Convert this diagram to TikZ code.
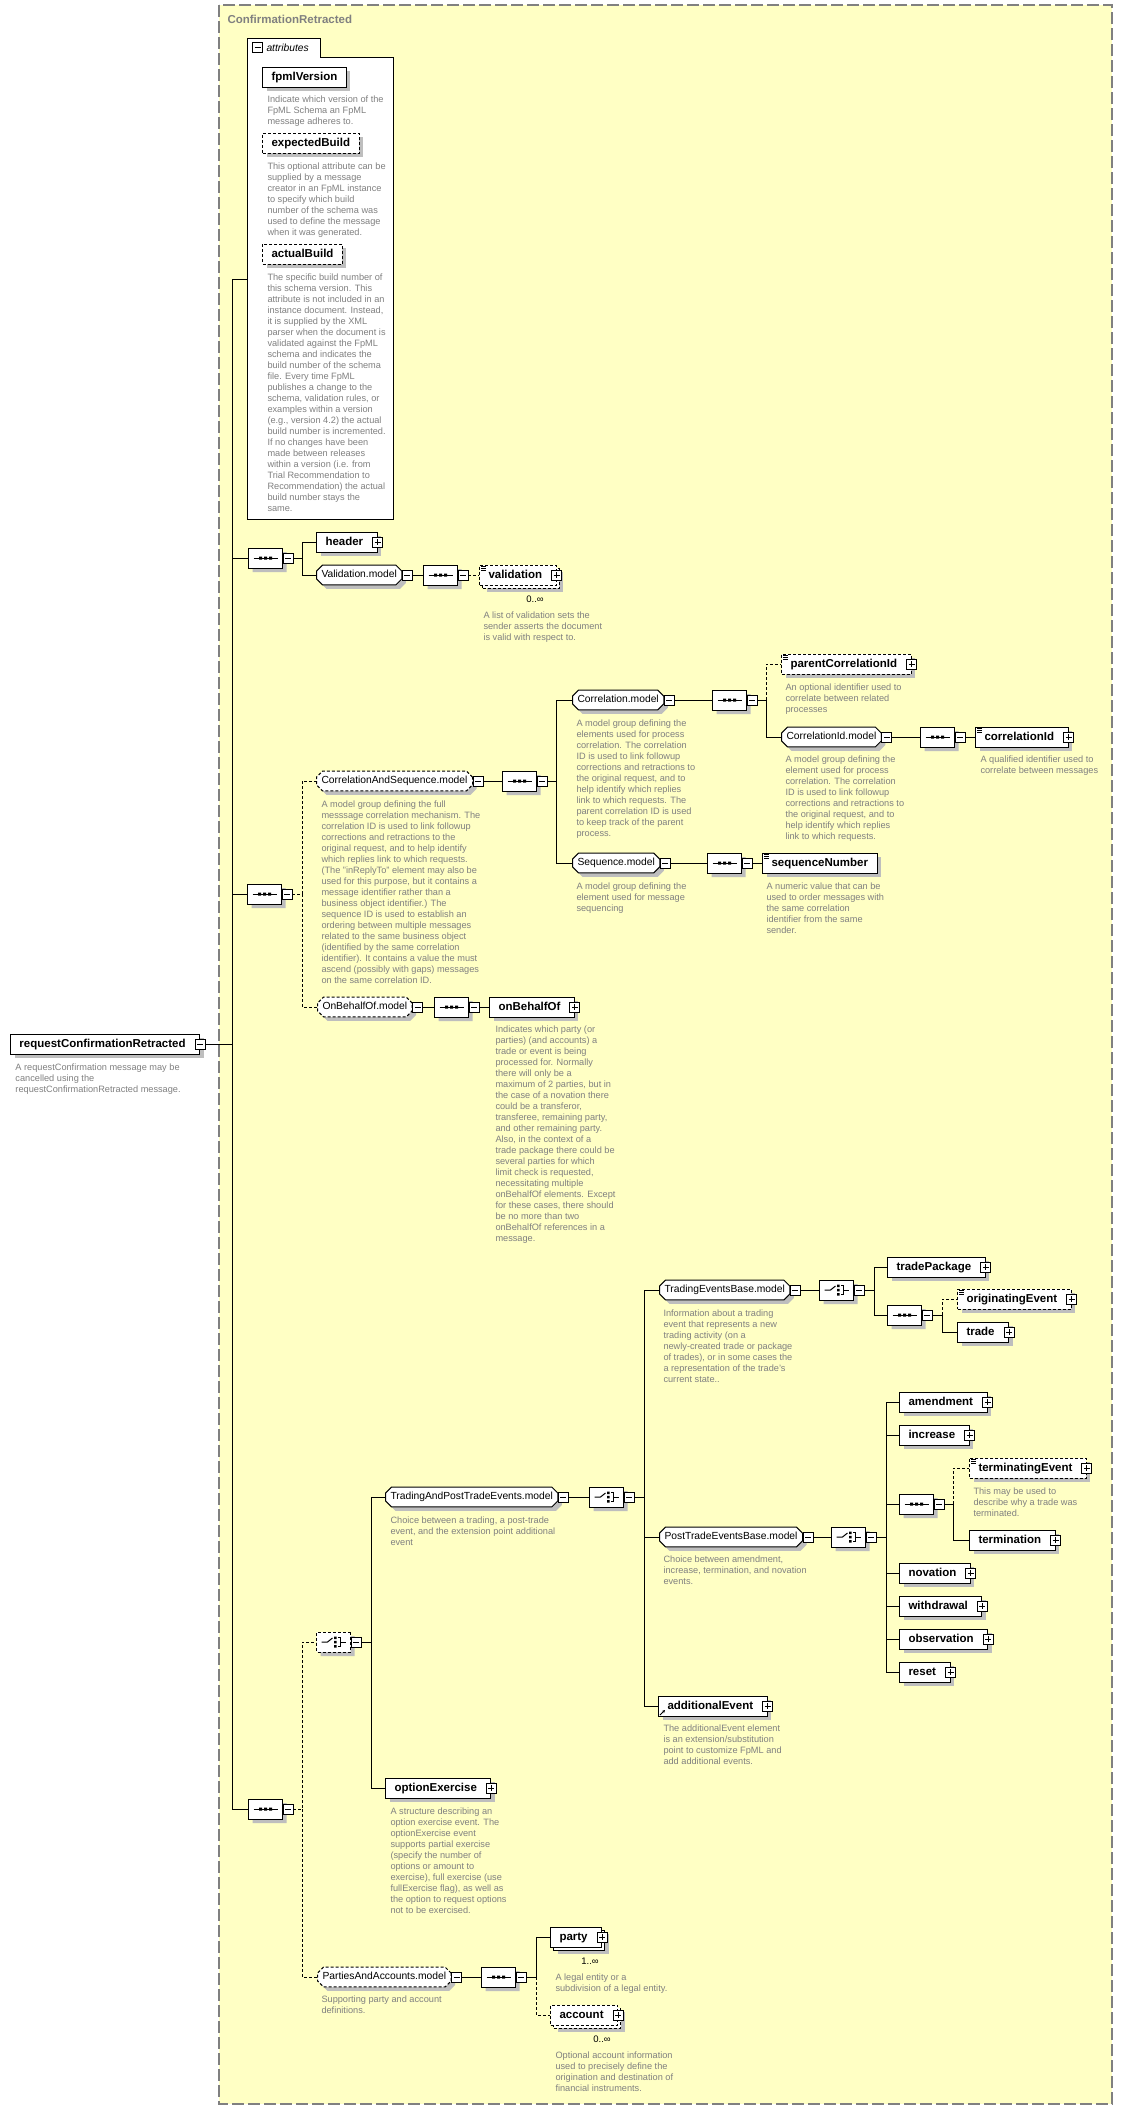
\documentclass[tikz,border=0pt]{standalone}
\usepackage{fontspec}
\setmainfont{Liberation Sans}
\usetikzlibrary{shapes.misc,shadows,arrows.meta}
\definecolor{bgyellow}{RGB}{255,255,196}
\definecolor{descgray}{RGB}{128,128,128}
\definecolor{shgray}{RGB}{190,190,190}
\newcommand{\dlines}[1]{\begin{tabular}[t]{@{}l@{}}#1\end{tabular}}
\tikzset{
	pp/.pic={
		\draw[fill=white, solid] (-5,-5) rectangle (5,5);
		\draw[solid] (-3,0) -- (3,0) (0,-3) -- (0,3);
	},
	pm/.pic={
		\draw[fill=white, solid] (-5,-5) rectangle (5,5);
		\draw[solid] (-3,0) -- (3,0);
	},
	seqsym/.pic={
		\draw[solid] (-12,0) -- (12,0);
		\fill (-6.5,-1.5) rectangle (-3.5,1.5) (-1.5,-1.5) rectangle (1.5,1.5) (3.5,-1.5) rectangle (6.5,1.5);
	},
	chsym/.pic={
		\draw[solid] (-12,0) -- (-6,0) -- (-1,-4);
		\fill (0.5,-5.5) rectangle (3,-3) (0.5,-1.25) rectangle (3,1.25) (0.5,3) rectangle (3,5.5);
		\draw[solid] (4.5,-4.25) -- (7,-4.25) -- (7,4.25) -- (4.5,4.25) (7,0) -- (12,0);
	},
	smp/.pic={
		\draw[line width=0.7pt, solid] (2,2) -- (7,2) (2,4) -- (7,4) (2,6) -- (7,6);
	},
	rfa/.pic={
		\draw[line width=1pt, solid, -{Stealth[length=3pt, width=3pt]}] (2,-1.5) -- (7,-6.5);
	}
}
\begin{document}
\begin{tikzpicture}[x=1pt, y=-1pt, line width=1pt,
	every node/.style={inner sep=0pt},
	dsh/.style={dash pattern=on 3pt off 2pt},
	shd/.style={drop shadow={shadow xshift=4pt, shadow yshift=-4pt, fill=shgray, opacity=1}},
	mult/.style={drop shadow={shadow xshift=7pt, shadow yshift=-7pt, fill=shgray, opacity=1}, copy shadow={shadow xshift=3pt, shadow yshift=-3pt}},
	box/.style={draw, fill=white, anchor=west, minimum height=20pt, inner xsep=9pt, text height=8.5pt, text depth=2.5pt, font=\fontsize{11.5}{13}\selectfont\bfseries},
	elem/.style={box, shd},
	pl/.style={execute at end node={\hspace{5pt}}},
	mdl/.style={chamfered rectangle, chamfered rectangle xsep=3pt, chamfered rectangle ysep=3pt, draw, fill=white, shd, anchor=west, minimum height=19pt, inner xsep=2pt, inner ysep=2pt, text height=7.5pt, text depth=2.2pt, font=\fontsize{10.3}{12}\selectfont},
	cmp/.style={chamfered rectangle, chamfered rectangle xsep=6pt, chamfered rectangle ysep=6pt, draw, fill=white, shd, anchor=west, minimum width=34pt, minimum height=20pt},
	note/.style={anchor=base west, text=descgray, font=\fontsize{9.2}{11}\selectfont},
	card/.style={font=\fontsize{9.5}{11}\selectfont}
]
	\fill[white] (0,0) rectangle (1122,2110);
	\useasboundingbox (0,0) rectangle (1122,2110);
	\draw[fill=bgyellow, draw=gray, dash pattern=on 12pt off 4pt, line width=1.2pt] (219,5) rectangle (1112,2104);
	\node[anchor=west, text=gray, font=\fontsize{11.5}{13}\selectfont\bfseries] (title) at (227,19) {ConfirmationRetracted};

	\draw[fill=white] (247,38) -- (320,38) -- (320,57) -- (393,57) -- (393,519) -- (247,519) -- cycle;
	\node[anchor=west, font=\fontsize{10.3}{12}\selectfont\itshape] (attrs) at (266,47.5) {attributes};
	\coordinate (attrin) at (247,279);
	\node[elem] (fpmlVersion) at (262,77) {fpmlVersion};
	\node[note] (fpmlVersion-d) at (267,102) {\dlines{Indicate which version of the\\FpML Schema an FpML\\message adheres to.}};
	\node[elem, dsh] (expectedBuild) at (262,143) {expectedBuild};
	\node[note] (expectedBuild-d) at (267,169) {\dlines{This optional attribute can be\\supplied by a message\\creator in an FpML instance\\to specify which build\\number of the schema was\\used to define the message\\when it was generated.}};
	\node[elem, dsh] (actualBuild) at (262,254) {actualBuild};
	\node[note] (actualBuild-d) at (267,280) {\dlines{The specific build number of\\this schema version. This\\attribute is not included in an\\instance document. Instead,\\it is supplied by the XML\\parser when the document is\\validated against the FpML\\schema and indicates the\\build number of the schema\\file. Every time FpML\\publishes a change to the\\schema, validation rules, or\\examples within a version\\(e.g., version 4.2) the actual\\build number is incremented.\\If no changes have been\\made between releases\\within a version (i.e. from\\Trial Recommendation to\\Recommendation) the actual\\build number stays the\\same.}};

	\node[elem, pl] (rcr) at (10,1044) {requestConfirmationRetracted};
	\node[note] (rcr-d) at (15,1070) {\dlines{A requestConfirmation message may be\\cancelled using the\\requestConfirmationRetracted message.}};

	\node[cmp] (seqa) at (248,558) {};
	\node[elem, pl] (header) at (316,542) {header};
	\node[mdl] (valM) at (316,575) {Validation.model};
	\node[cmp] (seqa2) at (423,575) {};
	\node[box, mult, dsh, pl] (validation) at (479,575) {validation};
	\node[card] (validation-n) at (535,599) {0..∞};
	\node[note] (validation-d) at (483,618) {\dlines{A list of validation sets the\\sender asserts the document\\is valid with respect to.}};

	\node[cmp] (seqb) at (247,894) {};
	\node[mdl, dsh] (casM) at (316,781) {CorrelationAndSequence.model};
	\node[note] (casM-d) at (321,807) {\dlines{A model group defining the full\\messsage correlation mechanism. The\\correlation ID is used to link followup\\corrections and retractions to the\\original request, and to help identify\\which replies link to which requests.\\(The "inReplyTo" element may also be\\used for this purpose, but it contains a\\message identifier rather than a\\business object identifier.) The\\sequence ID is used to establish an\\ordering between multiple messages\\related to the same business object\\(identified by the same correlation\\identifier). It contains a value the must\\ascend (possibly with gaps) messages\\on the same correlation ID.}};
	\node[cmp] (seqb2) at (502,781) {};
	\node[mdl] (corrM) at (572,700) {Correlation.model};
	\node[note] (corrM-d) at (576,726) {\dlines{A model group defining the\\elements used for process\\correlation. The correlation\\ID is used to link followup\\corrections and retractions to\\the original request, and to\\help identify which replies\\link to which requests. The\\parent correlation ID is used\\to keep track of the parent\\process.}};
	\node[cmp] (seqb3) at (712,700) {};
	\node[elem, dsh, pl] (pcid) at (781,664) {parentCorrelationId};
	\node[note] (pcid-d) at (785,690) {\dlines{An optional identifier used to\\correlate between related\\processes}};
	\node[mdl] (cidM) at (781,737) {CorrelationId.model};
	\node[note] (cidM-d) at (785,762) {\dlines{A model group defining the\\element used for process\\correlation. The correlation\\ID is used to link followup\\corrections and retractions to\\the original request, and to\\help identify which replies\\link to which requests.}};
	\node[cmp] (seqb4) at (920,737) {};
	\node[elem, pl] (cid) at (975,737) {correlationId};
	\node[note] (cid-d) at (980,762) {\dlines{A qualified identifier used to\\correlate between messages}};
	\node[mdl] (seqM) at (572,863) {Sequence.model};
	\node[note] (seqM-d) at (576,889) {\dlines{A model group defining the\\element used for message\\sequencing}};
	\node[cmp] (seqb5) at (707,863) {};
	\node[elem] (seqnum) at (762,863) {sequenceNumber};
	\node[note] (seqnum-d) at (766,889) {\dlines{A numeric value that can be\\used to order messages with\\the same correlation\\identifier from the same\\sender.}};
	\node[mdl, dsh] (obM) at (317,1007) {OnBehalfOf.model};
	\node[cmp] (seqb6) at (434,1007) {};
	\node[elem, pl] (obo) at (489,1007) {onBehalfOf};
	\node[note] (obo-d) at (495,1032) {\dlines{Indicates which party (or\\parties) (and accounts) a\\trade or event is being\\processed for. Normally\\there will only be a\\maximum of 2 parties, but in\\the case of a novation there\\could be a transferor,\\transferee, remaining party,\\and other remaining party.\\Also, in the context of a\\trade package there could be\\several parties for which\\limit check is requested,\\necessitating multiple\\onBehalfOf elements. Except\\for these cases, there should\\be no more than two\\onBehalfOf references in a\\message.}};

	\node[cmp] (seqc) at (248,1809) {};
	\node[cmp, dsh] (cha) at (316,1642) {};
	\node[mdl] (taptM) at (385,1497) {TradingAndPostTradeEvents.model};
	\node[note] (taptM-d) at (390,1523) {\dlines{Choice between a trading, a post-trade\\event, and the extension point additional\\event}};
	\node[cmp] (chb) at (589,1497) {};
	\node[mdl] (tebM) at (659,1290) {TradingEventsBase.model};
	\node[note] (tebM-d) at (663,1316) {\dlines{Information about a trading\\event that represents a new\\trading activity (on a\\newly-created trade or package\\of trades), or in some cases the\\a representation of the trade's\\current state..}};
	\node[cmp] (chc) at (819,1290) {};
	\node[elem, pl] (tradePackage) at (887,1267) {tradePackage};
	\node[cmp] (seqd) at (887,1315) {};
	\node[elem, dsh, pl] (originatingEvent) at (957,1299) {originatingEvent};
	\node[elem, pl] (trade) at (957,1332) {trade};
	\node[mdl] (ptM) at (659,1537) {PostTradeEventsBase.model};
	\node[note] (ptM-d) at (663,1562) {\dlines{Choice between amendment,\\increase, termination, and novation\\events.}};
	\node[cmp] (chd) at (831,1537) {};
	\node[elem, pl] (amendment) at (899,1402) {amendment};
	\node[elem, pl] (increase) at (899,1435) {increase};
	\node[cmp] (seqe) at (899,1504) {};
	\node[elem, dsh, pl] (terminatingEvent) at (969,1468) {terminatingEvent};
	\node[note] (terminatingEvent-d) at (973,1494) {\dlines{This may be used to\\describe why a trade was\\terminated.}};
	\node[elem, pl] (termination) at (969,1540) {termination};
	\node[elem, pl] (novation) at (899,1573) {novation};
	\node[elem, pl] (withdrawal) at (899,1606) {withdrawal};
	\node[elem, pl] (observation) at (899,1639) {observation};
	\node[elem, pl] (reset) at (899,1672) {reset};
	\node[elem, pl] (ae) at (658,1706) {additionalEvent};
	\node[note] (ae-d) at (663,1731) {\dlines{The additionalEvent element\\is an extension/substitution\\point to customize FpML and\\add additional events.}};
	\node[elem, pl] (optEx) at (385,1788) {optionExercise};
	\node[note] (optEx-d) at (390,1814) {\dlines{A structure describing an\\option exercise event. The\\optionExercise event\\supports partial exercise\\(specify the number of\\options or amount to\\exercise), full exercise (use\\fullExercise flag), as well as\\the option to request options\\not to be exercised.}};
	\node[mdl, dsh] (paM) at (317,1977) {PartiesAndAccounts.model};
	\node[note] (paM-d) at (321,2002) {\dlines{Supporting party and account\\definitions.}};
	\node[cmp] (seqf) at (481,1977) {};
	\node[box, mult, pl] (party) at (550,1937) {party};
	\node[card] (party-n) at (590,1961) {1..∞};
	\node[note] (party-d) at (555,1980) {\dlines{A legal entity or a\\subdivision of a legal entity.}};
	\node[box, mult, dsh, pl] (account) at (550,2015) {account};
	\node[card] (account-n) at (602,2039) {0..∞};
	\node[note] (account-d) at (555,2058) {\dlines{Optional account information\\used to precisely define the\\origination and destination of\\financial instruments.}};

	\coordinate (trunk) at (232,1044);
	\draw ([xshift=5]rcr.east) -- (trunk);
	\draw (trunk) |- (attrin);
	\draw (trunk) |- (seqa.west);
	\draw (trunk) |- (seqb.west);
	\draw (trunk) |- (seqc.west);

	\draw ([xshift=10]seqa.east) -- ++(9,0) coordinate (ba) |- (header.west);
	\draw (ba) |- (valM.west);
	\draw ([xshift=10]valM.east) -- (seqa2.west);
	\draw[dsh] ([xshift=10]seqa2.east) -- (validation.west);

	\draw[dsh] ([xshift=10]seqb.east) -- ++(10,0) coordinate (bb) |- (casM.west);
	\draw[dsh] (bb) |- (obM.west);
	\draw ([xshift=10]casM.east) -- (seqb2.west);
	\draw ([xshift=10]seqb2.east) -- ++(9,0) coordinate (bb2) |- (corrM.west);
	\draw (bb2) |- (seqM.west);
	\draw ([xshift=10]corrM.east) -- (seqb3.west);
	\draw ([xshift=10]seqb3.east) -- ++(9,0) coordinate (bb3) |- (cidM.west);
	\draw[dsh] (bb3) |- (pcid.west);
	\draw ([xshift=10]cidM.east) -- (seqb4.west);
	\draw ([xshift=10]seqb4.east) -- (cid.west);
	\draw ([xshift=10]seqM.east) -- (seqb5.west);
	\draw ([xshift=10]seqb5.east) -- (seqnum.west);
	\draw ([xshift=10]obM.east) -- (seqb6.west);
	\draw ([xshift=10]seqb6.east) -- (obo.west);

	\draw[dsh] ([xshift=10]seqc.east) -- ++(9,0) coordinate (bc) |- (cha.west);
	\draw[dsh] (bc) |- (paM.west);
	\draw ([xshift=10]cha.east) -- ++(10,0) coordinate (bc1) |- (taptM.west);
	\draw (bc1) |- (optEx.west);
	\draw ([xshift=10]taptM.east) -- (chb.west);
	\draw ([xshift=10]chb.east) -- ++(10,0) coordinate (bc2) |- (tebM.west);
	\draw (bc2) |- (ptM.west);
	\draw (bc2) |- (ae.west);
	\draw ([xshift=10]tebM.east) -- (chc.west);
	\draw ([xshift=10]chc.east) -- ++(10,0) coordinate (bc3) |- (tradePackage.west);
	\draw (bc3) |- (seqd.west);
	\draw ([xshift=10]seqd.east) -- ++(10,0) coordinate (bc4) |- (trade.west);
	\draw[dsh] (bc4) |- (originatingEvent.west);
	\draw ([xshift=10]ptM.east) -- (chd.west);
	\draw ([xshift=10]chd.east) -- ++(10,0) coordinate (bc5) |- (seqe.west);
	\foreach \n in {amendment,increase,novation,withdrawal,observation,reset}
		\draw (bc5) |- (\n.west);
	\draw ([xshift=10]seqe.east) -- ++(9,0) coordinate (bc6) |- (termination.west);
	\draw[dsh] (bc6) |- (terminatingEvent.west);
	\draw ([xshift=10]paM.east) -- (seqf.west);
	\draw ([xshift=10]seqf.east) -- ++(10,0) coordinate (bc7) |- (party.west);
	\draw[dsh] (bc7) |- (account.west);

	\pic at (257.5,47.5) {pm};
	\pic at (rcr.east) {pm};
	\foreach \n in {header,validation,pcid,cid,obo,tradePackage,originatingEvent,trade,amendment,increase,terminatingEvent,termination,novation,withdrawal,observation,reset,ae,optEx,party,account}
		\pic at (\n.east) {pp};
	\foreach \n in {valM,casM,corrM,cidM,seqM,obM,taptM,tebM,ptM,paM,seqa,seqa2,seqb,seqb2,seqb3,seqb4,seqb5,seqb6,seqc,cha,chb,chc,seqd,chd,seqe,seqf}
		\pic at ([xshift=5]\n.east) {pm};
	\foreach \n in {seqa,seqa2,seqb,seqb2,seqb3,seqb4,seqb5,seqb6,seqc,seqd,seqe,seqf}
		\pic at (\n.center) {seqsym};
	\foreach \n in {cha,chb,chc,chd}
		\pic at (\n.center) {chsym};
	\foreach \n in {validation,pcid,cid,seqnum,originatingEvent,terminatingEvent}
		\pic at (\n.north west) {smp};
	\pic at (ae.south west) {rfa};
\end{tikzpicture}
\end{document}
